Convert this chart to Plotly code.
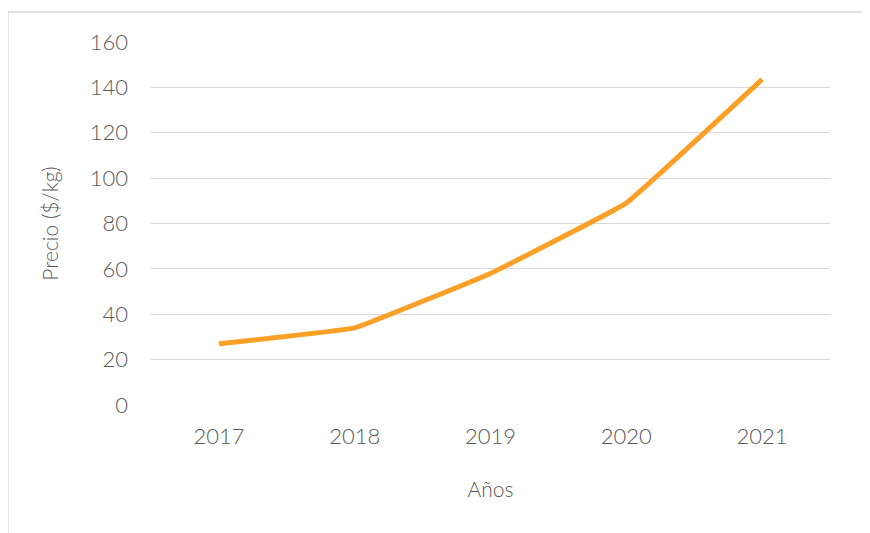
import plotly.graph_objects as go

years = ["2017", "2018", "2019", "2020", "2021"]
precio = [27, 34, 58, 89, 143.5]
y_ticks = [0, 20, 40, 60, 80, 100, 120, 140, 160]

FONT = "Lato"
GRAY = "#595959"

fig = go.Figure()
fig.add_trace(go.Scatter(
    x=years, y=precio, mode="lines",
    line=dict(color="#FBA026", width=5, shape="spline", smoothing=0.2),
    hoverinfo="x+y", showlegend=False,
))

# the page body adds an 8px offset, so the figure is 862x525
fig.update_layout(
    width=862, height=525,
    margin=dict(l=143, r=40, t=34, b=128),
    paper_bgcolor="white", plot_bgcolor="white",
    font=dict(family=FONT, color=GRAY, size=21),
    xaxis=dict(
        type="category", range=[-0.5, 4.5], showgrid=False, zeroline=False, showline=False,
        ticks="", ticklabelstandoff=16, automargin=False,
        tickfont=dict(size=22, color=GRAY, family=FONT, weight=300),
        title=dict(text="Años", font=dict(size=21, color=GRAY, family=FONT, weight=300), standoff=34),
    ),
    yaxis=dict(
        range=[0, 160], tickvals=y_ticks, showgrid=True, gridcolor="#D9D9D9", gridwidth=1.3,
        zeroline=False, showline=False, ticks="", ticklabelstandoff=22, automargin=False,
        tickfont=dict(size=22, color=GRAY, family=FONT, weight=300),
        title=dict(text="Precio ($/kg)", font=dict(size=21, color=GRAY, family=FONT, weight=300), standoff=25),
    ),
    shapes=[dict(type="rect", xref="paper", yref="paper",
                 x0=-0.2106, x1=1.2, y0=-0.6, y1=1.0826,
                 line=dict(color="#D9D9D9", width=1.3), fillcolor="rgba(0,0,0,0)", layer="below")],
)

fig.write_html("out.html")
